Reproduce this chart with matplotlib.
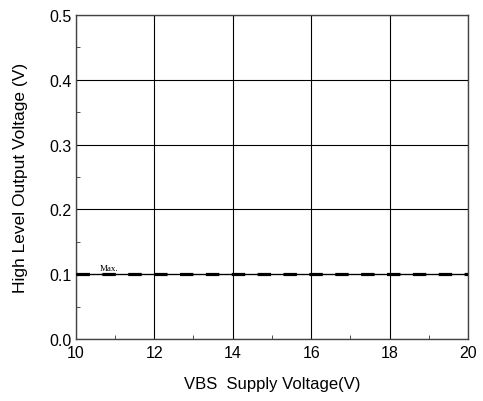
import matplotlib.pyplot as plt
from matplotlib.ticker import MultipleLocator

plt.rcParams['font.family'] = ['Liberation Sans', 'DejaVu Sans']

# VBS supply voltage vs max high level output voltage
vbs = [10, 12, 14, 16, 18, 20]
voh_max = [0.1, 0.1, 0.1, 0.1, 0.1, 0.1]

fig = plt.figure(figsize=(4.83, 4.02), dpi=100)
ax = fig.add_axes([0.157, 0.154, 0.812, 0.806])

ax.plot(vbs, voh_max, color='black', lw=0.9, zorder=3)
ax.plot(vbs, voh_max, color='black', lw=2.3, dashes=(4.2, 3.9),
        dash_capstyle='butt', zorder=4)
ax.text(10.6, 0.104, 'Max.', fontsize=6.5, family='Liberation Serif',
        va='bottom')

ax.set_xlim(10, 20)
ax.set_ylim(0, 0.5)
ax.xaxis.set_major_locator(MultipleLocator(2))
ax.xaxis.set_minor_locator(MultipleLocator(1))
ax.yaxis.set_major_locator(MultipleLocator(0.1))
ax.yaxis.set_minor_locator(MultipleLocator(0.05))
ax.yaxis.set_major_formatter(plt.FormatStrFormatter('%.1f'))
ax.tick_params(which='both', direction='in', labelsize=11.5, color='#333333')
ax.tick_params(which='major', length=0, pad=3)
ax.tick_params(axis='x', which='major', pad=4)
ax.tick_params(which='minor', length=3)
ax.grid(True, which='major', color='black', lw=0.8)
for s in ax.spines.values():
    s.set_color('#444444')
    s.set_linewidth(1.0)

ax.set_xlabel('VBS  Supply Voltage(V)', fontsize=12, labelpad=12)
ax.set_ylabel('High Level Output Voltage (V)', fontsize=12.5, labelpad=15)

fig.savefig('out.png', dpi=100)
